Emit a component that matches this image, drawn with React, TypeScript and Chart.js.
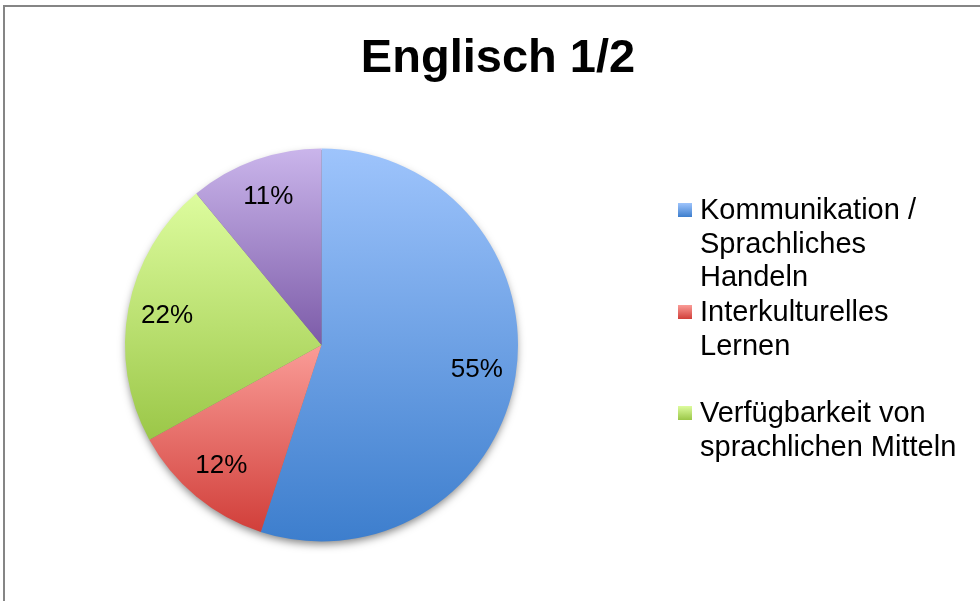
import { useEffect, useRef } from "react";
import { Chart, registerables } from "chart.js";

Chart.register(...registerables);

// ---- data ----
const titleText = "Englisch 1/2";
const categories = [
  "Kommunikation / Sprachliches Handeln",
  "Interkulturelles Lernen",
  "Verfügbarkeit von sprachlichen Mitteln",
  "",
];
const values = [55, 12, 22, 11];
const legendLines = [
  ["Kommunikation /", "Sprachliches", "Handeln"],
  ["Interkulturelles", "Lernen"],
  ["Verfügbarkeit von", "sprachlichen Mitteln"],
];

// ---- styles ----
const gradTop = ["#9EC4FC", "#FA9C97", "#DDFC9E", "#CAB5EB"];
const gradBottom = ["#3D7ECD", "#D13F3A", "#9BC748", "#7C5BA8"];
const FONT = "'Liberation Sans', Arial, Helvetica, sans-serif";
const legendRowY = [210, 312, 413];
const legendLineH = 33.5;

function sliceBounds(chart: any, i: number) {
  const area = chart.chartArea;
  const cx = (area.left + area.right) / 2;
  const cy = (area.top + area.bottom) / 2;
  const r = Math.min(area.width, area.height) / 2;
  const data: number[] = chart.data.datasets[0].data;
  const total = data.reduce((a, b) => a + b, 0);
  let before = 0;
  for (let k = 0; k < i; k++) before += data[k];
  const a0 = -Math.PI / 2 + (before / total) * Math.PI * 2;
  const a1 = a0 + (data[i] / total) * Math.PI * 2;
  const ys = [cy, cy + r * Math.sin(a0), cy + r * Math.sin(a1)];
  for (const k of [-Math.PI / 2, Math.PI / 2, (3 * Math.PI) / 2, (5 * Math.PI) / 2]) {
    if (k >= a0 && k <= a1) ys.push(cy + r * Math.sin(k));
  }
  return { ymin: Math.min(...ys), ymax: Math.max(...ys) };
}

function sliceGradient(context: any) {
  const chart = context.chart;
  const i = context.dataIndex ?? 0;
  if (!chart.chartArea) return gradBottom[i];
  const { ymin, ymax } = sliceBounds(chart, i);
  const g = chart.ctx.createLinearGradient(0, ymin, 0, ymax);
  g.addColorStop(0, gradTop[i]);
  g.addColorStop(1, gradBottom[i]);
  return g;
}

const decorPlugin = {
  id: "decor",
  beforeDraw(chart: any) {
    const ctx = chart.ctx;
    ctx.save();
    ctx.fillStyle = "#ffffff";
    ctx.fillRect(0, 0, chart.width, chart.height);
    ctx.strokeStyle = "#858585";
    ctx.lineWidth = 2;
    ctx.beginPath();
    ctx.moveTo(4, chart.height + 2);
    ctx.lineTo(4, 6);
    ctx.lineTo(chart.width + 2, 6);
    ctx.stroke();
    ctx.restore();
  },
  beforeDatasetsDraw(chart: any) {
    const ctx = chart.ctx;
    const area = chart.chartArea;
    const cx = (area.left + area.right) / 2;
    const cy = (area.top + area.bottom) / 2;
    const r = Math.min(area.width, area.height) / 2;
    ctx.save();
    ctx.shadowColor = "rgba(0,0,0,0.5)";
    ctx.shadowBlur = 9;
    ctx.shadowOffsetX = 0;
    ctx.shadowOffsetY = 4;
    ctx.fillStyle = "#777";
    ctx.beginPath();
    ctx.arc(cx, cy, r - 1.5, 0, Math.PI * 2);
    ctx.fill();
    ctx.restore();
  },
  afterDatasetsDraw(chart: any) {
    const ctx = chart.ctx;
    const meta = chart.getDatasetMeta(0);
    const data: number[] = chart.data.datasets[0].data;
    const total = data.reduce((a, b) => a + b, 0);
    ctx.save();
    ctx.fillStyle = "#000";
    ctx.font = `26px ${FONT}`;
    ctx.textAlign = "center";
    ctx.textBaseline = "middle";
    meta.data.forEach((arc: any, i: number) => {
      const p = arc.getProps(["x", "y", "startAngle", "endAngle", "outerRadius"], true);
      const mid = (p.startAngle + p.endAngle) / 2;
      const rr = p.outerRadius * 0.8;
      const pct = Math.round((data[i] / total) * 100) + "%";
      ctx.fillText(pct, p.x + Math.cos(mid) * rr, p.y + Math.sin(mid) * rr);
    });
    ctx.restore();
  },
  afterDraw(chart: any) {
    const ctx = chart.ctx;
    ctx.save();
    // title
    ctx.fillStyle = "#000";
    ctx.font = `bold 47px ${FONT}`;
    ctx.textAlign = "center";
    ctx.textBaseline = "alphabetic";
    ctx.fillText(titleText, 498, 72);
    // legend
    ctx.font = `29px ${FONT}`;
    ctx.textAlign = "left";
    ctx.textBaseline = "middle";
    legendLines.forEach((lines, i) => {
      const y0 = legendRowY[i];
      const g = ctx.createLinearGradient(0, y0 - 7, 0, y0 + 7);
      g.addColorStop(0, gradTop[i]);
      g.addColorStop(1, gradBottom[i]);
      ctx.fillStyle = g;
      ctx.fillRect(678, y0 - 7, 14, 14);
      ctx.fillStyle = "#000";
      lines.forEach((t, k) => ctx.fillText(t, 700, y0 + 1 + k * legendLineH));
    });
    ctx.restore();
  },
};

export default function App() {
  const ref = useRef<HTMLCanvasElement>(null);
  useEffect(() => {
    if (!ref.current) return;
    const chart = new Chart(ref.current, {
      type: "pie",
      data: {
        labels: categories,
        datasets: [
          {
            data: values,
            backgroundColor: sliceGradient,
            borderWidth: 0,
            hoverOffset: 0,
            offset: 0,
          } as any,
        ],
      },
      options: {
        responsive: false,
        maintainAspectRatio: false,
        animation: false,
        events: [],
        layout: { padding: { left: 125, right: 462, top: 148, bottom: 59 } },
        plugins: {
          legend: { display: false },
          title: { display: false },
          tooltip: { enabled: false },
        },
      },
      plugins: [decorPlugin],
    });
    return () => chart.destroy();
  }, []);
  return (
    <div style={{ position: "fixed", left: 0, top: 0, width: 980, height: 601, background: "#fff" }}>
      <canvas ref={ref} width={980} height={601} style={{ display: "block", width: 980, height: 601 }} />
    </div>
  );
}
